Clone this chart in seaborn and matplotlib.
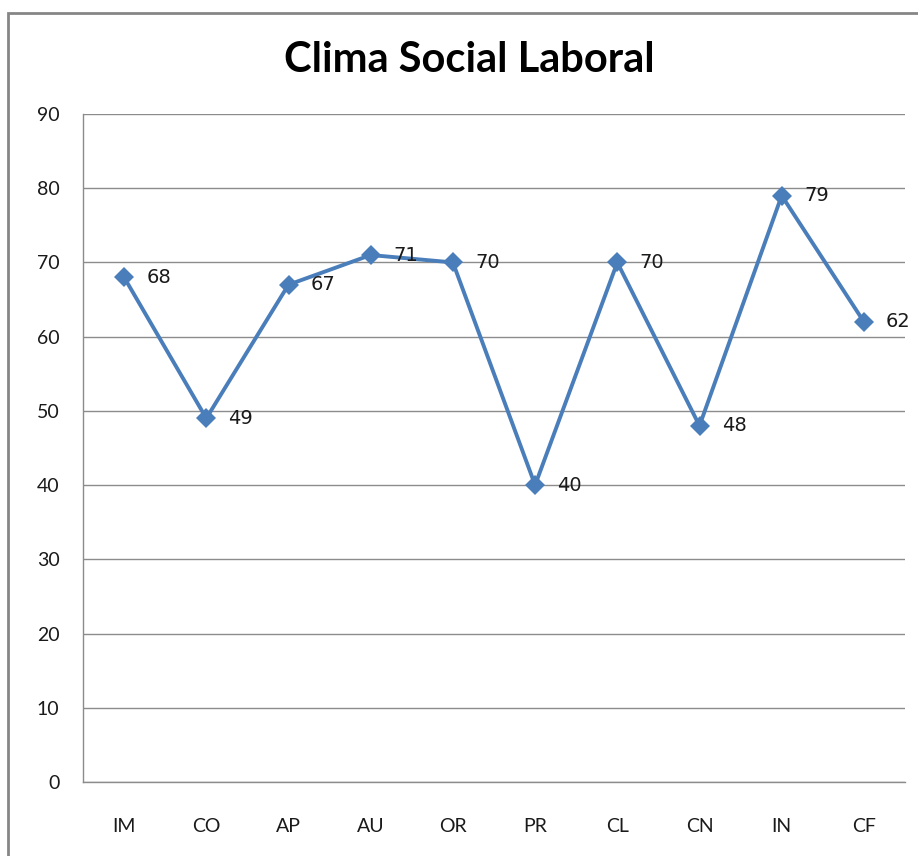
import matplotlib
matplotlib.use("Agg")
import matplotlib.pyplot as plt
import seaborn as sns
import pandas as pd
from matplotlib.patches import Rectangle

# Data
categories = ["IM", "CO", "AP", "AU", "OR", "PR", "CL", "CN", "IN", "CF"]
values = [68, 49, 67, 71, 70, 40, 70, 48, 79, 62]
y_ticks = [0, 10, 20, 30, 40, 50, 60, 70, 80, 90]

df = pd.DataFrame({"dimension": categories, "score": values})

sns.set_style("white")
plt.rcParams["font.family"] = ["Lato", "DejaVu Sans"]

fig = plt.figure(figsize=(9.18, 8.56), dpi=100)
ax = fig.add_axes([83 / 918, 1 - 782 / 856, 822 / 918, 668 / 856])

# outer chart frame
fig.patches.append(Rectangle((7.5 / 918, -0.1), 1.2, 1 - 12.5 / 856 + 0.1,
                             transform=fig.transFigure, fill=False,
                             edgecolor="#868686", linewidth=2))

sns.lineplot(data=df, x="dimension", y="score", ax=ax, color="#4A7EBB",
             linewidth=2.8, marker="D", markersize=10, markeredgewidth=0,
             sort=False)

for i, v in enumerate(values):
    ax.annotate(str(v), (i, v), xytext=(16, 0), textcoords="offset points",
                va="center", ha="left", fontsize=14, family="DejaVu Sans",
                color="#1a1a1a")

ax.set_xlim(-0.5, len(categories) - 0.5)
ax.set_ylim(0, 90)
ax.set_yticks(y_ticks)
ax.grid(axis="y", color="#8c8c8c", linewidth=1)
ax.set_axisbelow(True)
for s in ["top", "right"]:
    ax.spines[s].set_visible(False)
for s in ["left", "bottom"]:
    ax.spines[s].set_color("#8c8c8c")
    ax.spines[s].set_linewidth(1)
ax.tick_params(axis="y", length=0, pad=17, labelsize=14, labelcolor="#1a1a1a")
ax.tick_params(axis="x", length=0, pad=26, labelsize=14, labelcolor="#1a1a1a")
ax.set_xlabel("")
ax.set_ylabel("")

fig.text(469 / 918, 1 - 60 / 856, "Clima Social Laboral", ha="center", va="center",
         fontsize=30, fontweight="bold", color="black")

fig.savefig("out.png", dpi=100)
